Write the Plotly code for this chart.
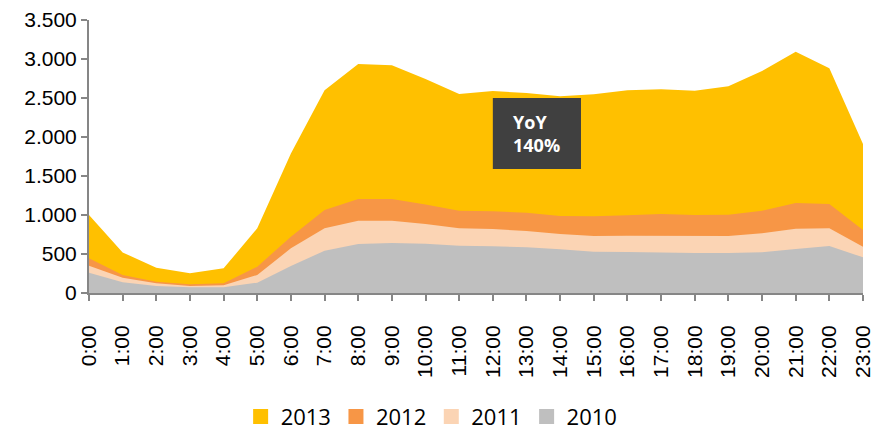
import plotly.graph_objects as go

hours = [f"{h}:00" for h in range(24)]

y2013 = [1000, 520, 325, 252, 316, 829, 1790, 2600, 2935, 2920, 2745, 2551, 2590, 2564,
         2521, 2547, 2598, 2611, 2594, 2650, 2846, 3094, 2880, 1910]
y2012 = [445, 231, 145, 111, 124, 337, 722, 1064, 1205, 1205, 1135, 1055, 1047, 1030,
         987, 983, 996, 1013, 1000, 1004, 1055, 1154, 1141, 808]
y2011 = [350, 196, 124, 90, 99, 231, 573, 829, 927, 927, 885, 829, 820, 795,
         756, 731, 735, 731, 731, 731, 765, 825, 829, 594]
y2010 = [260, 137, 90, 73, 73, 132, 346, 542, 628, 641, 632, 606, 599, 586,
         560, 529, 526, 517, 513, 513, 522, 564, 603, 457]

series = [("2013", y2013, "#FFC000"), ("2012", y2012, "#F79646"),
          ("2011", y2011, "#FBD4B4"), ("2010", y2010, "#BFBFBF")]

fig = go.Figure()
for name, vals, col in series:
    fig.add_trace(go.Scatter(x=hours, y=vals, mode="lines", fill="tozeroy",
                             fillcolor=col, line=dict(width=0, color=col),
                             showlegend=False, hoverinfo="skip", name=name))
for name, vals, col in series:
    fig.add_trace(go.Scatter(x=[hours[0]], y=[None], mode="markers", name=name,
                             marker=dict(symbol="square", size=15, color=col),
                             showlegend=True))

fig.add_shape(type="rect", xref="x", yref="y", x0=12, x1=14.62, y0=1590, y1=2500,
              fillcolor="#404040", line=dict(width=0), layer="above")
fig.add_annotation(xref="x", yref="y", x=12.55, y=2040, xanchor="left", yanchor="middle",
                   text="<b>YoY<br>140%</b>", showarrow=False, align="left",
                   font=dict(family="Open Sans", size=18, color="white"))

axis_col = "#868686"
fig.update_layout(
    width=875, height=435,
    margin=dict(l=89, r=12, t=20, b=142, autoexpand=False),
    plot_bgcolor="white", paper_bgcolor="white",
    separators=",.",
    hovermode=False,
    font=dict(family="Liberation Sans", size=21, color="#000000"),
    xaxis=dict(type="category", range=[0, 23], showgrid=False, zeroline=False,
               showline=True, linecolor=axis_col, linewidth=2,
               ticks="outside", ticklen=6, tickcolor=axis_col, tickwidth=2,
               tickangle=-90, ticklabelstandoff=16,
               tickfont=dict(family="Liberation Sans", size=21)),
    yaxis=dict(range=[0, 3500], dtick=500, tickformat=",d", showgrid=False,
               zeroline=False, showline=True, linecolor=axis_col, linewidth=2,
               ticks="outside", ticklen=6, tickcolor=axis_col, tickwidth=2,
               ticklabelstandoff=0,
               tickfont=dict(family="Liberation Sans", size=21)),
    legend=dict(orientation="h", xref="container", yref="container",
                x=0.275, xanchor="left", y=0.042, yanchor="middle",
                font=dict(family="Open Sans", size=22, color="#000000"),
                itemclick=False, itemdoubleclick=False),
)

fig.write_html("out.html", config={"displayModeBar": False},
               post_script="document.body.style.margin='0';")
